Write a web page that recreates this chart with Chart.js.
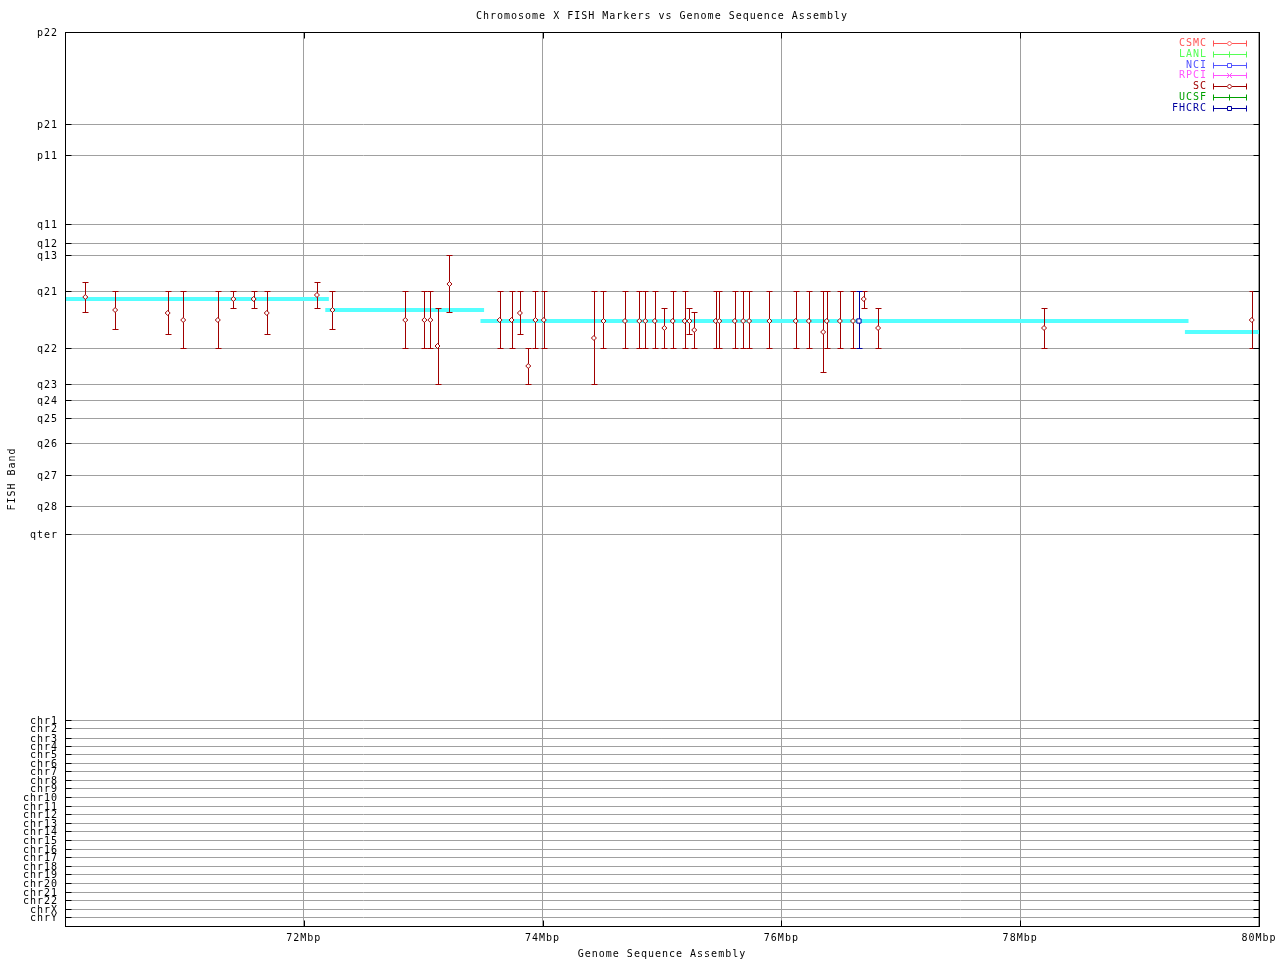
<!DOCTYPE html>
<html>
<head>
<meta charset="utf-8">
<title>Chromosome X FISH Markers vs Genome Sequence Assembly</title>
<script src="https://cdn.jsdelivr.net/npm/chart.js@4.4.1/dist/chart.umd.min.js"></script>
<style>
  body { margin: 0; background: #fff; }
  #wrap { width: 1280px; height: 960px; position: relative; }
</style>
</head>
<body>
<div id="wrap"><canvas id="myChart"></canvas></div>
<script>
//band ticks on the y axis, value = distance below p22 in band units
const bandLabels = ['p22', 'p21', 'p11', 'q11', 'q12', 'q13', 'q21', 'q22', 'q23', 'q24', 'q25', 'q26', 'q27', 'q28', 'qter',
    'chr1', 'chr2', 'chr3', 'chr4', 'chr5', 'chr6', 'chr7', 'chr8', 'chr9', 'chr10', 'chr11', 'chr12',
    'chr13', 'chr14', 'chr15', 'chr16', 'chr17', 'chr18', 'chr19', 'chr20', 'chr21', 'chr22', 'chrX', 'chrY'];
const bandValues = [0, 92, 123, 192, 211, 223, 259, 316, 352, 368, 386, 411, 443, 474, 502,
    688, 696, 706, 714, 722, 731, 739, 748, 756, 765, 774, 782,
    791, 799, 808, 817, 825, 834, 842, 851, 860, 868, 877, 885];
const bandMax = 894;

//x axis (Mbp)
const xMin = 70;
const xMax = 80;
const xTickValues = [72, 74, 76, 78, 80];

//sequence assembly segments (cyan)
const assemblyStart = [70.0, 72.18, 73.48, 79.38];
const assemblyEnd = [72.21, 73.51, 79.41, 80.0];
const assemblyBand = [267, 278, 289, 300];

//FISH markers per source: position, band, band range (top / bottom)
const sourceNames = ['CSMC', 'LANL', 'NCI', 'RPCI', 'SC', 'UCSF', 'FHCRC'];

const scPos = [70.17, 70.42, 70.86, 70.99, 71.28, 71.41, 71.58, 71.69, 72.11, 72.24,
    72.85, 73.01, 73.06, 73.12, 73.22, 73.64, 73.74, 73.81, 73.88, 73.94, 74.01,
    74.43, 74.51, 74.69, 74.81, 74.86, 74.94, 75.02, 75.09, 75.19, 75.23, 75.27,
    75.45, 75.48, 75.61, 75.68, 75.73, 75.90, 76.12, 76.23, 76.35, 76.38, 76.49, 76.60,
    76.69, 76.81, 78.20, 79.94];
const scBand = [265, 278, 281, 288, 288, 267, 267, 281, 263, 278,
    288, 288, 288, 314, 252, 288, 288, 281, 334, 288, 288,
    306, 289, 289, 289, 289, 289, 296, 289, 289, 289, 298,
    289, 289, 289, 289, 289, 289, 289, 289, 300, 289, 289, 289,
    267, 296, 296, 288];
const scTop = [250, 259, 259, 259, 259, 259, 259, 259, 250, 259,
    259, 259, 259, 276, 223, 259, 259, 259, 316, 259, 259,
    259, 259, 259, 259, 259, 259, 276, 259, 259, 276, 280,
    259, 259, 259, 259, 259, 259, 259, 259, 259, 259, 259, 259,
    259, 276, 276, 259];
const scBottom = [280, 297, 302, 316, 316, 276, 276, 302, 276, 297,
    316, 316, 316, 352, 280, 316, 316, 302, 352, 316, 316,
    352, 316, 316, 316, 316, 316, 316, 316, 316, 302, 316,
    316, 316, 316, 316, 316, 316, 316, 316, 340, 316, 316, 316,
    276, 316, 316, 316];

const fhcrcPos = [76.65];
const fhcrcBand = [289];
const fhcrcTop = [259];
const fhcrcBottom = [316];

//styles
const sourceColors = ['#ff5555', '#55ff55', '#5555ff', '#ff55ff', '#a00000', '#00a000', '#0000a0'];
const sourceMarks = ['diamond', 'plus', 'square', 'cross', 'diamond', 'plus', 'square'];
const fontMono = "10px 'DejaVu Sans Mono', monospace";

function buildPoints(pos, band, top, bottom) {
    return pos.map((p, i) => ({ x: p, y: band[i], top: top[i], bottom: bottom[i] }));
}

const sourceData = {
    SC: buildPoints(scPos, scBand, scTop, scBottom),
    FHCRC: buildPoints(fhcrcPos, fhcrcBand, fhcrcTop, fhcrcBottom)
};

const assemblyPoints = [];
assemblyStart.forEach((s, i) => {
    assemblyPoints.push({ x: s, y: assemblyBand[i] });
    assemblyPoints.push({ x: assemblyEnd[i], y: assemblyBand[i] });
    assemblyPoints.push({ x: assemblyEnd[i], y: null });
});

const datasets = [{
    label: 'assembly',
    data: assemblyPoints,
    showLine: true,
    borderColor: '#55ffff',
    borderWidth: 4,
    pointRadius: 0,
    spanGaps: false,
    order: 20
}];

sourceNames.forEach((name, i) => {
    datasets.push({
        label: name,
        data: sourceData[name] || [],
        pointStyle: sourceMarks[i] === 'square' ? 'rect' : 'rectRot',
        pointRadius: sourceMarks[i] === 'square' ? 3 : 2.5,
        borderColor: sourceColors[i],
        backgroundColor: '#ffffff',
        borderWidth: 1,
        order: sourceNames.length - i
    });
});

function drawErrorBars(chart) {
    const ctx = chart.ctx;
    const xs = chart.scales.x;
    const ys = chart.scales.y;
    ctx.save();
    ctx.lineWidth = 1;
    chart.data.datasets.forEach(ds => {
        if (ds.label === 'assembly') return;
        ctx.strokeStyle = ds.borderColor;
        ds.data.forEach(p => {
            const px = Math.round(xs.getPixelForValue(p.x)) + 0.5;
            const y1 = Math.round(ys.getPixelForValue(p.top)) + 0.5;
            const y2 = Math.round(ys.getPixelForValue(p.bottom)) + 0.5;
            ctx.beginPath();
            ctx.moveTo(px, y1);
            ctx.lineTo(px, y2);
            ctx.moveTo(px - 3, y1);
            ctx.lineTo(px + 3, y1);
            ctx.moveTo(px - 3, y2);
            ctx.lineTo(px + 3, y2);
            ctx.stroke();
        });
    });
    ctx.restore();
}

function drawMark(ctx, mark, x, y, color) {
    ctx.strokeStyle = color;
    ctx.fillStyle = '#ffffff';
    ctx.beginPath();
    if (mark === 'diamond') {
        ctx.moveTo(x, y - 2.5);
        ctx.lineTo(x + 2.5, y);
        ctx.lineTo(x, y + 2.5);
        ctx.lineTo(x - 2.5, y);
        ctx.closePath();
        ctx.fill();
    } else if (mark === 'square') {
        ctx.rect(x - 2, y - 2, 4, 4);
        ctx.fill();
    } else if (mark === 'plus') {
        ctx.moveTo(x, y - 3);
        ctx.lineTo(x, y + 3);
    } else if (mark === 'cross') {
        ctx.moveTo(x - 2.5, y - 2.5);
        ctx.lineTo(x + 2.5, y + 2.5);
        ctx.moveTo(x - 2.5, y + 2.5);
        ctx.lineTo(x + 2.5, y - 2.5);
    }
    ctx.stroke();
}

const gnuplotLook = {
    id: 'gnuplotLook',
    beforeDraw(chart) {
        chart.ctx.letterSpacing = '1px';
    },
    afterDatasetDraw(chart, args) {
        if (chart.data.datasets[args.index].label === 'assembly') {
            drawErrorBars(chart);
        }
    },
    afterDraw(chart) {
        const ctx = chart.ctx;
        const area = chart.chartArea;
        const xs = chart.scales.x;
        const ys = chart.scales.y;
        const left = Math.round(area.left) + 0.5;
        const right = Math.round(area.right) + 0.5;
        const top = Math.round(area.top) + 0.5;
        const bottom = Math.round(area.bottom) + 0.5;

        ctx.save();
        ctx.letterSpacing = '1px';
        ctx.strokeStyle = '#000000';
        ctx.lineWidth = 1;
        ctx.strokeRect(left, top, right - left, bottom - top);

        //inward tick marks, mirrored
        ctx.beginPath();
        bandValues.forEach(v => {
            const py = Math.round(ys.getPixelForValue(v)) + 0.5;
            ctx.moveTo(left, py);
            ctx.lineTo(left + 6, py);
            ctx.moveTo(right - 6, py);
            ctx.lineTo(right, py);
        });
        xTickValues.forEach(v => {
            const px = Math.round(xs.getPixelForValue(v)) + 0.5;
            ctx.moveTo(px, bottom);
            ctx.lineTo(px, bottom - 6);
            ctx.moveTo(px, top);
            ctx.lineTo(px, top + 6);
        });
        ctx.stroke();

        //titles
        ctx.font = fontMono;
        ctx.fillStyle = '#000000';
        ctx.textAlign = 'center';
        ctx.textBaseline = 'middle';
        const midX = (area.left + area.right) / 2;
        ctx.fillText('Chromosome X FISH Markers vs Genome Sequence Assembly', midX, 16);
        ctx.fillText('Genome Sequence Assembly', midX, 954);
        ctx.save();
        ctx.translate(12, (area.top + area.bottom) / 2);
        ctx.rotate(-Math.PI / 2);
        ctx.fillText('FISH Band', 0, 0);
        ctx.restore();

        //legend
        sourceNames.forEach((name, i) => {
            const ly = 43 + i * 10.8;
            const lyc = Math.round(ly) + 0.5;
            ctx.fillStyle = sourceColors[i];
            ctx.textAlign = 'right';
            ctx.fillText(name, 1207, ly + 0.5);
            ctx.strokeStyle = sourceColors[i];
            ctx.beginPath();
            ctx.moveTo(1213, lyc);
            ctx.lineTo(1247, lyc);
            ctx.moveTo(1213.5, lyc - 3);
            ctx.lineTo(1213.5, lyc + 3);
            ctx.moveTo(1246.5, lyc - 3);
            ctx.lineTo(1246.5, lyc + 3);
            ctx.stroke();
            drawMark(ctx, sourceMarks[i], 1229.5, lyc, sourceColors[i]);
        });
        ctx.restore();
    }
};

Chart.defaults.font.family = "'DejaVu Sans Mono', monospace";
Chart.defaults.font.size = 10;
Chart.defaults.color = '#000000';

const myChart = new Chart(document.getElementById('myChart'), {
    type: 'scatter',
    data: { datasets: datasets },
    options: {
        responsive: true,
        maintainAspectRatio: false,
        animation: false,
        layout: { padding: { top: 32, right: 20, left: 0, bottom: 0 } },
        plugins: {
            legend: { display: false },
            tooltip: { enabled: false },
            title: { display: false }
        },
        scales: {
            x: {
                type: 'linear',
                min: xMin,
                max: xMax,
                afterBuildTicks: scale => {
                    scale.ticks = xTickValues.map(v => ({ value: v }));
                },
                afterFit: scale => { scale.height = 34; },
                ticks: {
                    autoSkip: false,
                    maxRotation: 0,
                    padding: 6,
                    callback: v => v + 'Mbp'
                },
                grid: { color: '#a0a0a0', drawTicks: false },
                border: { display: false }
            },
            y: {
                type: 'linear',
                reverse: true,
                min: 0,
                max: bandMax,
                afterBuildTicks: scale => {
                    scale.ticks = bandValues.map(v => ({ value: v }));
                },
                afterFit: scale => { scale.width = 65; },
                ticks: {
                    autoSkip: false,
                    padding: 7,
                    labelOffset: 1.5,
                    callback: v => bandLabels[bandValues.indexOf(v)]
                },
                grid: { color: '#a0a0a0', drawTicks: false },
                border: { display: false }
            }
        }
    },
    plugins: [gnuplotLook]
});
</script>
</body>
</html>
